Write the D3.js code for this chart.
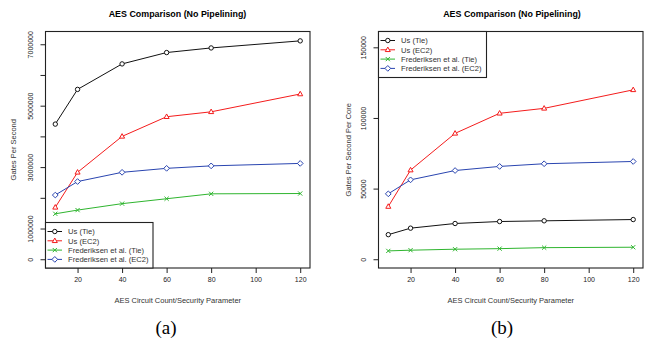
<!DOCTYPE html>
<html>
<head>
<meta charset="utf-8">
<script src="https://cdnjs.cloudflare.com/ajax/libs/d3/7.8.5/d3.min.js"></script>
<style>
  body { margin: 0; background: #fff; }
  svg { display: block; }
  text { font-family: "Liberation Sans", Arial, sans-serif; fill: #222; }
  .title { font-weight: bold; font-size: 8.9px; fill: #000; }
  .tick text { font-size: 7px; }
  .axlab { font-size: 7.5px; fill: #333; }
  .sub { font-family: "Liberation Serif", "Times New Roman", serif; font-size: 19px; fill: #000; }
</style>
</head>
<body>
<svg id="chart" width="646" height="348"></svg>
<script>
// x values (AES circuit count / security parameter)
const circuits = [10, 20, 40, 60, 80, 120];
const xTicks = [20, 40, 60, 80, 100, 120];
const seriesNames = ['Us (Tie)', 'Us (EC2)', 'Frederiksen et al. (Tie)', 'Frederiksen et al. (EC2)'];

// (a) gates per second
const gpsUsTie = [4400000, 5530000, 6360000, 6730000, 6880000, 7110000];
const gpsUsEC2 = [1690000, 2830000, 4000000, 4640000, 4800000, 5380000];
const gpsFredTie = [1480000, 1600000, 1810000, 1970000, 2130000, 2140000];
const gpsFredEC2 = [2090000, 2530000, 2830000, 2960000, 3040000, 3120000];
const gpsTicks = [0, 1000000, 2000000, 3000000, 4000000, 5000000, 6000000, 7000000];
const gpsLabelled = [0, 1000000, 3000000, 5000000, 7000000];

// (b) gates per second per core
const gpcUsTie = [17400, 22000, 25300, 26700, 27200, 28100];
const gpcUsEC2 = [37300, 63100, 89100, 103300, 106800, 119900];
const gpcFredTie = [5900, 6400, 7100, 7500, 8200, 8500];
const gpcFredEC2 = [46300, 56200, 62800, 65700, 67600, 69200];
const gpcTicks = [0, 50000, 100000, 150000];

const colors = ['#111', '#f41c1c', '#2fb52f', '#2a45b0'];
const shapes = ['circle', 'triangle', 'cross', 'diamond'];

const svg = d3.select('#chart');

// R style: pad the limits by 4% on each side
function expand(lo, hi) {
	const pad = (hi - lo) * 0.04;
	return [lo - pad, hi + pad];
}

function drawMarker(g, shape, x, y, color) {
	const r = 2.2;
	if (shape === 'circle') {
		g.append('circle').attr('cx', x).attr('cy', y).attr('r', r)
			.attr('fill', '#fff').attr('stroke', color).attr('stroke-width', 1);
	} else if (shape === 'triangle') {
		const p = [[x, y - r * 1.25], [x + r * 1.15, y + r * 0.8], [x - r * 1.15, y + r * 0.8]];
		g.append('polygon').attr('points', p.join(' '))
			.attr('fill', '#fff').attr('stroke', color).attr('stroke-width', 1);
	} else if (shape === 'cross') {
		const s = r * 0.95;
		g.append('path').attr('d', `M${x - s},${y - s}L${x + s},${y + s}M${x - s},${y + s}L${x + s},${y - s}`)
			.attr('stroke', color).attr('stroke-width', 1).attr('fill', 'none');
	} else {
		const s = r * 1.3;
		const p = [[x, y - s], [x + s, y], [x, y + s], [x - s, y]];
		g.append('polygon').attr('points', p.join(' '))
			.attr('fill', '#fff').attr('stroke', color).attr('stroke-width', 1);
	}
}

function drawPanel(opts) {
	const g = svg.append('g');
	const scaleX = d3.scaleLinear()
		.domain(expand(10, 120))
		.range([opts.left, opts.right]);
	const scaleY = d3.scaleLinear()
		.domain(expand(0, opts.yMax))
		.range([opts.bottom, opts.top]);

	// title
	g.append('text')
		.attr('class', 'title')
		.attr('x', opts.cx)
		.attr('y', 16.5)
		.attr('text-anchor', 'middle')
		.text('AES Comparison (No Pipelining)');

	// axes
	g.append('g')
		.attr('class', 'axis axis--x')
		.attr('transform', 'translate(0,' + opts.bottom + ')')
		.call(d3.axisBottom(scaleX).tickValues(xTicks).tickSize(5).tickPadding(4))
		.call(a => a.select('.domain').remove());

	g.append('g')
		.attr('class', 'axis axis--y')
		.attr('transform', 'translate(' + opts.left + ',0)')
		.call(d3.axisLeft(scaleY).tickValues(opts.yTicks).tickSize(5).tickPadding(4)
			.tickFormat(d => opts.yLabelled.includes(d) ? d3.format('d')(d) : ''))
		.call(a => a.select('.domain').remove())
		.call(a => a.selectAll('.tick text')
			.attr('transform', 'rotate(-90)')
			.attr('text-anchor', 'middle')
			.attr('x', 0)
			.attr('y', -13)
			.attr('dy', '0'));

	g.selectAll('.tick line').attr('stroke', '#222');

	// box
	g.append('rect')
		.attr('x', opts.left)
		.attr('y', opts.top)
		.attr('width', opts.right - opts.left)
		.attr('height', opts.bottom - opts.top)
		.attr('fill', 'none')
		.attr('stroke', '#222')
		.attr('stroke-width', 1.1);

	// axis titles
	g.append('text')
		.attr('class', 'axlab')
		.attr('x', (opts.left + opts.right) / 2)
		.attr('y', 303)
		.attr('text-anchor', 'middle')
		.text('AES Circuit Count/Security Parameter');

	g.append('text')
		.attr('class', 'axlab')
		.attr('transform', 'translate(' + (opts.ylabX) + ',' + ((opts.top + opts.bottom) / 2) + ') rotate(-90)')
		.attr('text-anchor', 'middle')
		.text(opts.ylab);

	// series
	const line = d3.line()
		.x((d, i) => scaleX(circuits[i]))
		.y(d => scaleY(d));

	opts.series.forEach((vals, k) => {
		g.append('path')
			.attr('d', line(vals))
			.attr('fill', 'none')
			.attr('stroke', colors[k])
			.attr('stroke-width', 1);
		vals.forEach((v, i) => drawMarker(g, shapes[k], scaleX(circuits[i]), scaleY(v), colors[k]));
	});

	// legend
	const lg = opts.legend;
	g.append('rect')
		.attr('x', lg.x)
		.attr('y', lg.y)
		.attr('width', lg.w)
		.attr('height', lg.h)
		.attr('fill', '#fff')
		.attr('stroke', '#222')
		.attr('stroke-width', 1.1);

	seriesNames.forEach((name, k) => {
		const yy = lg.y + 9 + k * 9.3;
		g.append('line')
			.attr('x1', lg.x + 2).attr('x2', lg.x + 16.5)
			.attr('y1', yy).attr('y2', yy)
			.attr('stroke', colors[k]).attr('stroke-width', 1);
		drawMarker(g, shapes[k], lg.x + 9.3, yy, colors[k]);
		g.append('text')
			.attr('x', lg.x + 22.5)
			.attr('y', yy + 2.7)
			.style('font-size', '7.6px')
			.style('fill', '#333')
			.text(name);
	});

	// sub caption
	svg.append('text')
		.attr('class', 'sub')
		.attr('x', opts.subX)
		.attr('y', 334)
		.attr('text-anchor', 'middle')
		.text(opts.sub);
}

drawPanel({
	left: 45.5, right: 310, top: 31.5, bottom: 268,
	cx: 177.5, yMax: 7130000,
	yTicks: gpsTicks, yLabelled: gpsLabelled,
	ylab: 'Gates Per Second', ylabX: 15.5,
	series: [gpsUsTie, gpsUsEC2, gpsFredTie, gpsFredEC2],
	legend: {x: 45.5, y: 222.5, w: 107.5, h: 45.5},
	sub: '(a)', subX: 166
});

drawPanel({
	left: 378.5, right: 643, top: 31.5, bottom: 268,
	cx: 512, yMax: 155000,
	yTicks: gpcTicks, yLabelled: gpcTicks,
	ylab: 'Gates Per Second Per Core', ylabX: 350.5,
	series: [gpcUsTie, gpcUsEC2, gpcFredTie, gpcFredEC2],
	legend: {x: 378.5, y: 31.5, w: 108, h: 46},
	sub: '(b)', subX: 502
});
</script>
</body>
</html>
